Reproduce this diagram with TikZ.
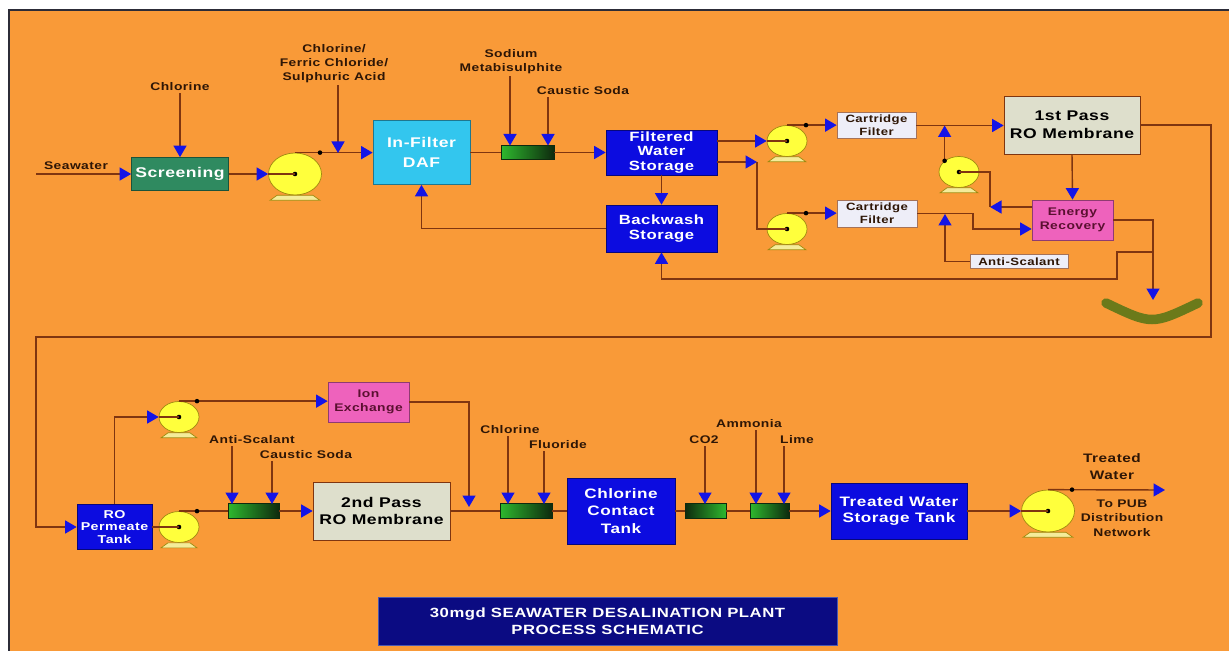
\documentclass[tikz,border=0pt]{standalone}
\usepackage{fontspec}
\setmainfont{Liberation Sans}[FakeStretch=1.25,LetterSpace=4]
\usetikzlibrary{arrows.meta,positioning,shapes.geometric}
\definecolor{plantbg}{HTML}{F99A38}
\definecolor{framegrey}{HTML}{2C2C38}
\definecolor{pipeline}{HTML}{7F3510}
\definecolor{tipblue}{HTML}{1414E6}
\definecolor{tankblue}{HTML}{0C0CE0}
\definecolor{dafcyan}{HTML}{33C6EE}
\definecolor{screengreen}{HTML}{2F8A60}
\definecolor{membgrey}{HTML}{DEDFCC}
\definecolor{cartwhite}{HTML}{EEEEF8}
\definecolor{ionpink}{HTML}{EE62BC}
\definecolor{iontext}{HTML}{5A1030}
\definecolor{pumpyellow}{HTML}{FFFF3C}
\definecolor{pumpedge}{HTML}{A08A10}
\definecolor{pumpstand}{HTML}{F4EC9A}
\definecolor{labeltext}{HTML}{2E1606}
\definecolor{titlenavy}{HTML}{0B0B82}
\definecolor{titleedge}{HTML}{4A58B0}
\definecolor{mixgreen}{HTML}{2EB82E}
\definecolor{mixdark}{HTML}{0E2A0E}
\definecolor{brinegreen}{HTML}{6B7A1A}
\tikzset{
  pipe/.style={line width=0.8pt,draw=pipeline},
  flow/.style={pipe,-{Triangle[length=0.23cm,width=0.26cm,color=tipblue]}},
  frameline/.style={line width=0.05cm,draw=framegrey},
  unit/.style={draw,align=center,inner sep=0pt},
  tank/.style={unit,fill=tankblue,draw=tankblue!55!black,text=white,font=\bfseries\fontsize{7.6}{8.3}\selectfont},
  screenbox/.style={unit,fill=screengreen,draw=screengreen!60!black,text=white,font=\bfseries\fontsize{8}{9}\selectfont},
  dafbox/.style={unit,fill=dafcyan,draw=dafcyan!60!black,text=white,font=\bfseries\fontsize{8}{11.3}\selectfont},
  membrane/.style={unit,fill=membgrey,draw=pipeline,text=black,font=\bfseries\fontsize{8}{10.2}\selectfont},
  cartridge/.style={unit,fill=cartwhite,draw=pipeline!70,text=labeltext,font=\bfseries\fontsize{6}{7.3}\selectfont},
  ionbox/.style={unit,fill=ionpink,draw=ionpink!60!black,text=iontext,font=\bfseries\fontsize{6.3}{7.8}\selectfont},
  titlebox/.style={unit,fill=titlenavy,draw=titleedge,text=white,font=\bfseries\fontsize{7.6}{9.6}\selectfont},
  mixer/.style={draw=mixdark,left color=mixgreen,right color=mixdark,minimum height=0.29cm,inner sep=0pt},
  mixerrev/.style={mixer,left color=mixdark,right color=mixgreen},
  pump/.style={ellipse,draw=pumpedge,fill=pumpyellow,inner sep=0pt,minimum width=1.06cm,minimum height=0.84cm,
    path picture={\fill[black] (path picture bounding box.center) circle (1.3pt);}},
  pumpsm/.style={pump,minimum width=0.8cm,minimum height=0.62cm},
  pumpbase/.style={fill=pumpstand,draw=pumpedge,line width=0.4pt},
  chem/.style={align=center,inner sep=1pt,text=labeltext,font=\bfseries\fontsize{6.3}{8}\selectfont},
  outfall/.style={line width=0.19cm,draw=brinegreen,line cap=round}
}

\begin{document}
\begin{tikzpicture}[x=0.02cm,y=-0.02cm]
  \useasboundingbox (0,0) rectangle (1229,651);
  \fill[white] (0,0) rectangle (1229,651);
  \fill[plantbg] (9,10) rectangle (1229,651);
  \draw[frameline] (9,651) -- (9,10) -- (1229,10);

  % intake, DAF and storage
  \node[chem] (swl) at (76,166) {Seawater};
  \coordinate (sw) at (36,174);
  \node[screenbox,minimum width=1.94cm,minimum height=0.66cm] (scr) at (180,174) {Screening};
  \node[chem] (cl1) at (180,87) {Chlorine};
  \node[pump] (p1) at (295,174) {};
  \node[chem] (cfs) at (334,64) {Chlorine/\\Ferric Chloride/\\Sulphuric Acid};
  \coordinate (dcfs) at (338,153);
  \node[dafbox,minimum width=1.94cm,minimum height=1.28cm] (daf) at (421.5,152.5) {In-Filter\\DAF};
  \node[mixer,minimum width=1.06cm] (m1) at (527.5,152.5) {};
  \node[chem] (smb) at (511,62) {Sodium\\Metabisulphite};
  \node[chem] (cs1) at (583,91) {Caustic Soda};
  \coordinate (dsmb) at (510,145.5);
  \coordinate (dcs1) at (548,145.5);
  \node[tank,minimum width=2.22cm,minimum height=0.9cm] (fws) at (661.5,152.5) {Filtered\\Water\\Storage};
  \node[tank,minimum width=2.22cm,minimum height=0.94cm] (bws) at (661.5,228.5) {Backwash\\Storage};

  % cartridge filters, first pass and energy recovery
  \node[pumpsm] (p2) at (787,141) {};
  \node[pumpsm] (p3) at (787,229) {};
  \coordinate (j3) at (757,162);
  \node[cartridge,minimum width=1.58cm,minimum height=0.52cm] (cf1) at (876.5,125.5) {Cartridge\\Filter};
  \node[cartridge,minimum width=1.6cm,minimum height=0.54cm] (cf2) at (877,213.5) {Cartridge\\Filter};
  \node[membrane,minimum width=2.72cm,minimum height=1.16cm] (ro1) at (1072,125) {1st Pass\\RO Membrane};
  \node[pumpsm] (pb) at (959,172) {};
  \node[ionbox,minimum width=1.62cm,minimum height=0.8cm] (er) at (1072.5,220) {Energy\\Recovery};
  \node[cartridge,minimum width=1.96cm,minimum height=0.28cm] (as1) at (1019,261.5) {Anti-Scalant};
  \coordinate (jb2) at (990,207);
  \coordinate (jc) at (973,229);
  \coordinate (das) at (945,214);
  \coordinate (brine) at (1153,300);
  \coordinate (jr) at (1153,252);
  \coordinate (jr2) at (1117,279);
  \coordinate (ra) at (1211,337);
  \coordinate (rb) at (36,527);
  \draw[outfall] (1106,303) .. controls (1152,325) .. (1198,303);

  % second pass and post treatment
  \node[tank,font=\bfseries\fontsize{6.5}{6.9}\selectfont,minimum width=1.5cm,minimum height=0.9cm] (rpt) at (114.5,527) {RO\\Permeate\\Tank};
  \node[pumpsm] (p4) at (179,417) {};
  \node[pumpsm] (p5) at (179,527) {};
  \node[ionbox,minimum width=1.62cm,minimum height=0.8cm] (ix) at (368.5,402) {Ion\\Exchange};
  \coordinate (dix) at (469,507);
  \node[mixer,minimum width=1.02cm] (m2) at (253.5,511) {};
  \node[chem] (as2) at (252,440) {Anti-Scalant};
  \node[chem] (cs2) at (306,455) {Caustic Soda};
  \coordinate (das2) at (232,504);
  \coordinate (dcs2) at (272,504);
  \node[membrane,minimum width=2.74cm,minimum height=1.16cm] (ro2) at (381.5,511) {2nd Pass\\RO Membrane};
  \node[mixer,minimum width=1.04cm] (m3) at (526,511) {};
  \node[chem] (cl2) at (510,430) {Chlorine};
  \node[chem] (flu) at (558,445) {Fluoride};
  \coordinate (dcl2) at (508,504);
  \coordinate (dflu) at (544,504);
  \node[tank,minimum width=2.16cm,minimum height=1.32cm,font=\bfseries\fontsize{7.8}{9.9}\selectfont] (cct) at (621,511) {Chlorine\\Contact\\Tank};
  \node[mixerrev,minimum width=0.82cm] (m4) at (705.5,511) {};
  \node[mixer,minimum width=0.78cm] (m5) at (769.5,511) {};
  \node[chem] (co2) at (704,440) {CO2};
  \node[chem] (amm) at (749,424) {Ammonia};
  \node[chem] (lime) at (797,440) {Lime};
  \coordinate (dco2) at (705,504);
  \coordinate (damm) at (756,504);
  \coordinate (dlime) at (784,504);
  \node[tank,minimum width=2.72cm,minimum height=1.12cm,font=\bfseries\fontsize{7.8}{9.4}\selectfont] (twst) at (899,511) {Treated Water\\Storage Tank};
  \node[pump] (p6) at (1048,511) {};
  \coordinate (out) at (1165,490);
  \node[chem,font=\bfseries\fontsize{7}{9.6}\selectfont] (twl) at (1112,467) {Treated\\Water};
  \node[chem,font=\bfseries\fontsize{6.3}{8.2}\selectfont] (pub) at (1122,518) {To PUB\\Distribution\\Network};

  \node[titlebox,minimum width=9.18cm,minimum height=0.96cm] (title) at (607.5,621) {30mgd SEAWATER DESALINATION PLANT\\PROCESS SCHEMATIC};

  % pump stands
  \foreach \p/\w in {p1/25,p6/25,p2/19,p3/19,pb/19,p4/18,p5/18}
    \draw[pumpbase] ([shift={(-\w+7,0)}]\p.south) -- ([shift={(-\w,5)}]\p.south)
      -- ([shift={(\w,5)}]\p.south) -- ([shift={(\w-7,0)}]\p.south) -- cycle;

  % top line
  \draw[flow] (sw) -- (scr.west);
  \draw[flow] (cl1.south) -- (scr.north);
  \draw[flow] (scr.east) -- (p1.west);
  \draw[pipe] (p1.west) -- (p1.center);
  \draw[flow] (p1.north) -- (p1.north -| daf.west);
  \fill[black] ([shift={(25,0)}]p1.north) circle (1.3pt);
  \draw[flow] (cfs.south -| dcfs) -- (dcfs);
  \draw[pipe] (daf.east) -- (m1.west);
  \draw[flow] (m1.east) -- (m1.east -| fws.west);
  \draw[flow] (smb.south -| dsmb) -- (dsmb);
  \draw[flow] (cs1.south -| dcs1) -- (dcs1);
  \draw[flow] (fws.south) -- (bws.north);
  \draw[flow] (bws.west) -| (daf.south);
  \draw[flow] (fws.east |- p2) -- (p2.west);
  \draw[pipe] (p2.west) -- (p2.center);
  \draw[flow] (fws.east |- j3) -- (j3);
  \draw[pipe] (j3) |- (p3.center);
  \draw[flow] (p2.north) -- (p2.north -| cf1.west);
  \fill[black] ([shift={(19,0)}]p2.north) circle (1.3pt);
  \draw[flow] (p3.north) -- (p3.north -| cf2.west);
  \fill[black] ([shift={(19,0)}]p3.north) circle (1.3pt);
  \draw[flow] (cf1.east) -- (cf1.east -| ro1.west);
  \draw[flow] (pb.north west) -- (pb.north west |- cf1.east);
  \fill[black] (pb.north west) circle (1.3pt);
  \draw[flow] (ro1.south) -- (er.north);
  \draw[flow] (er.west |- jb2) -- (jb2);
  \draw[pipe] (jb2) |- (pb.center);
  \draw[flow] (cf2.east) -| (jc) -- (jc -| er.west);
  \draw[flow] (as1.west) -| (das);
  \draw[flow] (er.east) -| (brine);
  \draw[flow] (jr) -| (jr2) -| (bws.south);
  \draw[flow] (ro1.east) -| (ra) -| (rb) -- (rb -| rpt.west);

  % bottom line
  \draw[flow] (rpt.north) |- (p4.west);
  \draw[pipe] (p4.west) -- (p4.center);
  \draw[flow] (p4.north) -- (p4.north -| ix.west);
  \fill[black] ([shift={(18,0)}]p4.north) circle (1.3pt);
  \draw[flow] (ix.east) -| (dix);
  \draw[pipe] (rpt.east |- p5) -- (p5.center);
  \draw[pipe] (p5.north) -- (p5.north -| m2.west);
  \fill[black] ([shift={(18,0)}]p5.north) circle (1.3pt);
  \draw[flow] (m2.east) -- (m2.east -| ro2.west);
  \draw[flow] (as2.south -| das2) -- (das2);
  \draw[flow] (cs2.south -| dcs2) -- (dcs2);
  \draw[pipe] (ro2.east) -- (ro2.east -| m3.west);
  \draw[pipe] (m3.east) -- (m3.east -| cct.west);
  \draw[flow] (cl2.south -| dcl2) -- (dcl2);
  \draw[flow] (flu.south -| dflu) -- (dflu);
  \draw[pipe] (cct.east) -- (cct.east -| m4.west);
  \draw[pipe] (m4.east) -- (m4.east -| m5.west);
  \draw[flow] (m5.east) -- (m5.east -| twst.west);
  \draw[flow] (co2.south -| dco2) -- (dco2);
  \draw[flow] (amm.south -| damm) -- (damm);
  \draw[flow] (lime.south -| dlime) -- (dlime);
  \draw[flow] (twst.east) -- (twst.east -| p6.west);
  \draw[pipe] (p6.west) -- (p6.center);
  \draw[flow] (p6.north) -- (out);
  \fill[black] ([shift={(24,0)}]p6.north) circle (1.3pt);
\end{tikzpicture}
\end{document}
